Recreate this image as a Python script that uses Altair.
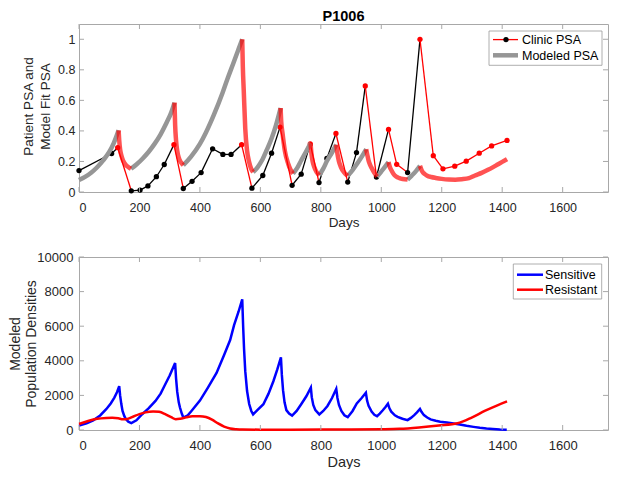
import altair as alt
import pandas as pd

# ---------------- data ----------------
clinic_days = [0, 108, 128, 173, 202, 228, 256, 282, 314, 345, 374, 404, 442, 476, 503,
               538, 572, 608, 637, 665, 705, 735, 765, 794, 820, 850, 889, 918, 947, 984,
               1024, 1051, 1087, 1128, 1172, 1204, 1243, 1281, 1324, 1365, 1416]
clinic_psa = [0.14, 0.252, 0.29, 0.008, 0.0125, 0.04, 0.10, 0.18, 0.31, 0.023, 0.07, 0.127,
              0.283, 0.246, 0.246, 0.31, 0.025, 0.108, 0.254, 0.425, 0.044, 0.117, 0.315,
              0.062, 0.22, 0.383, 0.065, 0.258, 0.694, 0.098, 0.41, 0.181, 0.127, 1.0,
              0.2375, 0.152, 0.169, 0.202, 0.254, 0.302, 0.3375]
clinic_on = [0, 0, 1, 0, 0, 0, 0, 0, 1, 0, 0, 0, 0, 0, 0, 1, 0, 0, 0, 1,
             0, 0, 1, 0, 0, 1, 0, 0, 1, 0, 1, 1, 0, 1, 1, 1, 1, 1, 1, 1, 1]

model_days = [0, 20, 40, 60, 80, 100, 115, 131, 133, 136, 140, 146, 154, 163, 172,
              190, 210, 230, 250, 270, 290, 305, 316, 318, 321, 325, 330, 337, 345,
              370, 400, 420, 445, 475, 491, 510, 525, 540, 542, 545, 550, 556, 563, 570, 576,
              590, 605, 620, 637, 652, 667, 669, 673, 681, 692, 700, 708,
              722, 735, 750, 766, 769, 773, 778, 786, 795, 808, 821, 836, 851,
              855, 860, 866, 877, 889, 905, 920, 935, 950, 954, 958, 963, 969, 977, 986,
              1000, 1012, 1024, 1028, 1033, 1040, 1049, 1060, 1071, 1087, 1100, 1114, 1128,
              1132, 1136, 1144, 1152, 1165, 1180, 1200, 1223, 1245, 1266, 1290, 1310, 1332,
              1353, 1370, 1385, 1400, 1416]
model_psa = [0.078, 0.099, 0.126, 0.162, 0.207, 0.262, 0.32, 0.404, 0.34, 0.28, 0.24, 0.205,
             0.18, 0.163, 0.152, 0.18, 0.218, 0.262, 0.315, 0.378, 0.455, 0.52, 0.585,
             0.44, 0.34, 0.27, 0.225, 0.195, 0.175, 0.23, 0.315, 0.39, 0.5, 0.65, 0.74, 0.84,
             0.92, 1.0, 0.82, 0.665, 0.415, 0.27, 0.195, 0.15, 0.13, 0.16, 0.206, 0.27, 0.35,
             0.44, 0.55, 0.46, 0.39, 0.27, 0.185, 0.145, 0.12, 0.158, 0.206, 0.26, 0.32,
             0.25, 0.2, 0.165, 0.13, 0.11, 0.153, 0.206, 0.255, 0.31, 0.25, 0.2, 0.165,
             0.128, 0.106, 0.143, 0.185, 0.23, 0.28, 0.24, 0.206, 0.178, 0.154, 0.125, 0.10,
             0.134, 0.164, 0.196, 0.165, 0.144, 0.12, 0.102, 0.091, 0.085, 0.081, 0.106,
             0.135, 0.171, 0.15, 0.133, 0.117, 0.106, 0.098, 0.092, 0.086, 0.082, 0.081,
             0.084, 0.091, 0.108, 0.125, 0.145, 0.163, 0.18, 0.197, 0.215]
treat_start = [131, 316, 540, 667, 766, 851, 950, 1024, 1128]
treat_end = [172, 345, 576, 708, 795, 889, 986, 1087, 1416]

sens_days = [0, 25, 47, 70, 90, 105, 117, 126, 133, 136, 140, 144, 150, 155, 163, 173, 190,
             209, 230, 253, 270, 285, 300, 318, 321, 325, 330, 334, 340, 345, 360, 372, 400,
             426, 455, 480, 500, 513, 528, 540, 543, 546, 550, 556, 563, 570, 576, 590, 610,
             627, 643, 656, 668, 671, 675, 680, 686, 695, 705, 720, 735, 752, 767, 770, 775,
             782, 795, 808, 822, 837, 851, 855, 860, 868, 878, 889, 905, 919, 935, 949, 953,
             958, 968, 977, 986, 995, 1005, 1014, 1022, 1027, 1033, 1045, 1054, 1070, 1087,
             1098, 1109, 1118, 1128, 1133, 1141, 1152, 1163, 1180, 1195, 1217, 1239, 1260,
             1282, 1305, 1326, 1348, 1369, 1392, 1415]
sens_vals = [250, 380, 560, 840, 1200, 1530, 1870, 2200, 2530, 2000, 1500, 1100, 800, 630,
             480, 400, 560, 910, 1250, 1680, 2100, 2630, 3150, 3870, 3000, 2200, 1600, 1300,
             950, 720, 850, 1100, 1700, 2440, 3300, 4340, 5200, 6060, 6850, 7550, 6000, 4700,
             3400, 2250, 1500, 1100, 900, 1150, 1490, 2100, 2820, 3500, 4200, 3200, 2300,
             1600, 1150, 950, 830, 1100, 1490, 1950, 2450, 1900, 1450, 1150, 900, 1100, 1390,
             1850, 2380, 1850, 1450, 1100, 850, 740, 1100, 1540, 1850, 2150, 1700, 1400,
             1060, 880, 800, 950, 1140, 1330, 1520, 1250, 1060, 850, 760, 650, 570, 700, 860,
             1020, 1220, 1050, 860, 720, 610, 530, 480, 430, 380, 320, 240, 180, 130, 90, 60,
             35, 20]
res_days = [0, 30, 60, 90, 110, 130, 145, 160, 180, 200, 220, 245, 265, 285, 305, 320, 335,
            355, 375, 400, 420, 440, 460, 480, 500, 520, 540, 600, 700, 800, 900, 1000, 1060,
            1125, 1190, 1252, 1299, 1342, 1386, 1416]
res_vals = [350, 520, 650, 700, 710, 680, 620, 640, 780, 920, 1020, 1070, 1050, 920, 740,
            620, 650, 730, 790, 800, 750, 600, 380, 200, 90, 45, 25, 20, 20, 25, 30, 45, 70,
            150, 260, 390, 720, 1100, 1440, 1650]

x_ticks = [0, 200, 400, 600, 800, 1000, 1200, 1400, 1600]
y1_ticks = [0, 0.2, 0.4, 0.6, 0.8, 1.0]
y2_ticks = [0, 2000, 4000, 6000, 8000, 10000]

title_text = "P1006"
legend_top = ["Clinic PSA", "Modeled PSA"]
legend_bottom = ["Sensitive", "Resistant"]

# ---------------- layout (pixels) ----------------
W = 529
H1 = 168
H2 = 173
GAP = 65
BOX = "#a8a8a8"
TXT = "#262626"
FONT = "Liberation Sans"

# ---------------- build tables ----------------
seg_rows = []
for i in range(len(clinic_days) - 1):
    col = "#ff0000" if clinic_on[i] else "#000000"
    for j in (i, i + 1):
        seg_rows.append({"day": clinic_days[j], "psa": clinic_psa[j], "seg": i, "col": col})
clinic_seg = pd.DataFrame(seg_rows)
clinic_pts = pd.DataFrame({"day": clinic_days, "psa": clinic_psa,
                           "col": ["#ff0000" if o else "#000000" for o in clinic_on]})


def is_on(d):
    return any(s <= d <= e for s, e in zip(treat_start, treat_end))


model_rows = []
seg_id = 0
prev_phase = None
for i in range(len(model_days) - 1):
    mid = (model_days[i] + model_days[i + 1]) / 2
    ph = "on" if is_on(mid) else "off"
    if ph != prev_phase:
        seg_id += 1
        model_rows.append({"day": model_days[i], "psa": model_psa[i], "seg": seg_id, "phase": ph})
        prev_phase = ph
    model_rows.append({"day": model_days[i + 1], "psa": model_psa[i + 1], "seg": seg_id, "phase": ph})
model_df = pd.DataFrame(model_rows)

sens_df = pd.DataFrame({"day": sens_days, "val": sens_vals})
res_df = pd.DataFrame({"day": res_days, "val": res_vals})

xs = alt.Scale(domain=[0, 1750], nice=False, zero=False)
y1s = alt.Scale(domain=[0, 1.1], nice=False)
y2s = alt.Scale(domain=[0, 10000], nice=False)

one = pd.DataFrame({"a": [0]})

# ---------------- axes ----------------
common = dict(ticks=False, tickSize=0, domain=False, grid=False, labelColor=TXT,
              titleColor=TXT, titleFontWeight="normal", titleBaseline="alphabetic",
              titleAlign="center")
x_axis_top = alt.Axis(values=x_ticks, format="d", title="Days", titleFontSize=13.5,
                      titleX=W / 2, titleY=34, labelFontSize=12.5, labelPadding=9, **common)
y_axis_top = alt.Axis(values=y1_ticks, format="~g", title=["Patient PSA and", "Model Fit PSA"],
                      titleFontSize=13.5, titleAngle=270, titleX=-47, titleY=82,
                      titleLineHeight=17.5, labelFontSize=12.5, labelPadding=4, **common)
x_axis_bot = alt.Axis(values=x_ticks, format="d", title="Days", titleFontSize=14.5,
                      titleX=W / 2, titleY=36, labelFontSize=13, labelPadding=9, **common)
y_axis_bot = alt.Axis(values=y2_ticks, format="d", title=["Modeled", "Population Densities"],
                      titleFontSize=14, titleAngle=270, titleX=-59.5, titleY=H2 / 2,
                      titleLineHeight=15.5, labelFontSize=13, labelPadding=6, **common)


def X(field, ax):
    return alt.X(field, scale=xs, axis=ax)


def ticks(yticks, ys, yax, xax, H):
    xt = pd.DataFrame({"t": x_ticks})
    yt = pd.DataFrame({"t": yticks})
    r = dict(color=BOX, strokeWidth=1)
    return [
        alt.Chart(xt).mark_rule(**r).encode(x=X("t:Q", xax), y=alt.value(H), y2=alt.value(H - 5)),
        alt.Chart(xt).mark_rule(**r).encode(x=X("t:Q", xax), y=alt.value(0), y2=alt.value(5)),
        alt.Chart(yt).mark_rule(**r).encode(y=alt.Y("t:Q", scale=ys, axis=yax), x=alt.value(0), x2=alt.value(5)),
        alt.Chart(yt).mark_rule(**r).encode(y=alt.Y("t:Q", scale=ys, axis=yax), x=alt.value(W - 5), x2=alt.value(W)),
    ]


txt = dict(align="left", baseline="middle", fontSize=12.5, color="#000", font=FONT)

# ---------------- top panel ----------------
clinic_line = alt.Chart(clinic_seg).mark_line(strokeWidth=1.3).encode(
    x=X("day:Q", x_axis_top),
    y=alt.Y("psa:Q", scale=y1s, axis=y_axis_top),
    detail="seg:N",
    color=alt.Color("col:N", scale=None),
)
clinic_dots = alt.Chart(clinic_pts).mark_circle(size=28, opacity=1).encode(
    x=X("day:Q", x_axis_top),
    y=alt.Y("psa:Q", scale=y1s, axis=y_axis_top),
    color=alt.Color("col:N", scale=None),
)
model_off = alt.Chart(model_df).transform_filter(alt.datum.phase == "off").mark_line(
    strokeWidth=4.5, color="#969696", interpolate="monotone").encode(
    x=X("day:Q", x_axis_top),
    y=alt.Y("psa:Q", scale=y1s, axis=y_axis_top),
    detail="seg:N",
)
model_on = alt.Chart(model_df).transform_filter(alt.datum.phase == "on").mark_line(
    strokeWidth=4.5, color="#ff0000", opacity=0.68, interpolate="monotone").encode(
    x=X("day:Q", x_axis_top),
    y=alt.Y("psa:Q", scale=y1s, axis=y_axis_top),
    detail="seg:N",
)

title_mark = alt.Chart(one).mark_text(align="center", baseline="alphabetic", fontSize=14.5,
                                      fontWeight="bold", color="#000", font=FONT).encode(
    x=alt.value(W / 2), y=alt.value(-3), text=alt.value(title_text))
anchor_top = alt.Chart(one).mark_rule(opacity=0, strokeWidth=1).encode(
    x=alt.value(-70.5), y=alt.value(-14.5), y2=alt.value(0))

LX0, LX1, LY0, LY1 = 410, 523, 7, 41.3
leg1 = [
    alt.Chart(one).mark_rect(fill="white", stroke="#9a9a9a", strokeWidth=0.8).encode(
        x=alt.value(LX0), x2=alt.value(LX1), y=alt.value(LY0), y2=alt.value(LY1)),
    alt.Chart(one).mark_rule(color="#ff0000", strokeWidth=1.3).encode(
        x=alt.value(414), x2=alt.value(439), y=alt.value(15.6)),
    alt.Chart(one).mark_circle(size=28, color="#000000", opacity=1).encode(
        x=alt.value(427), y=alt.value(15.6)),
    alt.Chart(one).mark_rule(color="#969696", strokeWidth=4.5).encode(
        x=alt.value(414), x2=alt.value(439), y=alt.value(31.3)),
    alt.Chart(one).mark_text(**txt).encode(x=alt.value(443), y=alt.value(16), text=alt.value(legend_top[0])),
    alt.Chart(one).mark_text(**txt).encode(x=alt.value(443), y=alt.value(31.7), text=alt.value(legend_top[1])),
]

top = alt.layer(
    clinic_line, clinic_dots, model_off, model_on,
    *ticks(y1_ticks, y1s, y_axis_top, x_axis_top, H1), *leg1, title_mark, anchor_top
).properties(width=W, height=H1)

# ---------------- bottom panel ----------------
sens_line = alt.Chart(sens_df).mark_line(strokeWidth=2.5, color="#0000ff").encode(
    x=X("day:Q", x_axis_bot),
    y=alt.Y("val:Q", scale=y2s, axis=y_axis_bot),
)
res_line = alt.Chart(res_df).mark_line(strokeWidth=2.5, color="#ff0000",
                                       interpolate="monotone").encode(
    x=X("day:Q", x_axis_bot),
    y=alt.Y("val:Q", scale=y2s, axis=y_axis_bot),
)

BX0, BX1, BY0, BY1 = 434.3, 522.7, 7, 42
leg2 = [
    alt.Chart(one).mark_rect(fill="white", stroke="#9a9a9a", strokeWidth=0.8).encode(
        x=alt.value(BX0), x2=alt.value(BX1), y=alt.value(BY0), y2=alt.value(BY1)),
    alt.Chart(one).mark_rule(color="#0000ff", strokeWidth=2.5).encode(
        x=alt.value(438), x2=alt.value(464), y=alt.value(17.7)),
    alt.Chart(one).mark_rule(color="#ff0000", strokeWidth=2.5).encode(
        x=alt.value(438), x2=alt.value(464), y=alt.value(32.7)),
    alt.Chart(one).mark_text(**txt).encode(x=alt.value(466), y=alt.value(18), text=alt.value(legend_bottom[0])),
    alt.Chart(one).mark_text(**txt).encode(x=alt.value(466), y=alt.value(33), text=alt.value(legend_bottom[1])),
]
anchor_bot = alt.Chart(one).mark_rule(opacity=0, strokeWidth=1).encode(
    x=alt.value(-70.5), y=alt.value(H2), y2=alt.value(H2 + 38.5))

bottom = alt.layer(
    sens_line, res_line, *ticks(y2_ticks, y2s, y_axis_bot, x_axis_bot, H2), *leg2, anchor_bot
).properties(width=W, height=H2)

chart = alt.vconcat(top, bottom, spacing=GAP, bounds="flush").properties(
    padding=0, background="white"
).configure(font=FONT).configure_view(stroke=BOX, strokeWidth=1)

chart.save("out.html", embed_options={"renderer": "svg", "actions": False})
